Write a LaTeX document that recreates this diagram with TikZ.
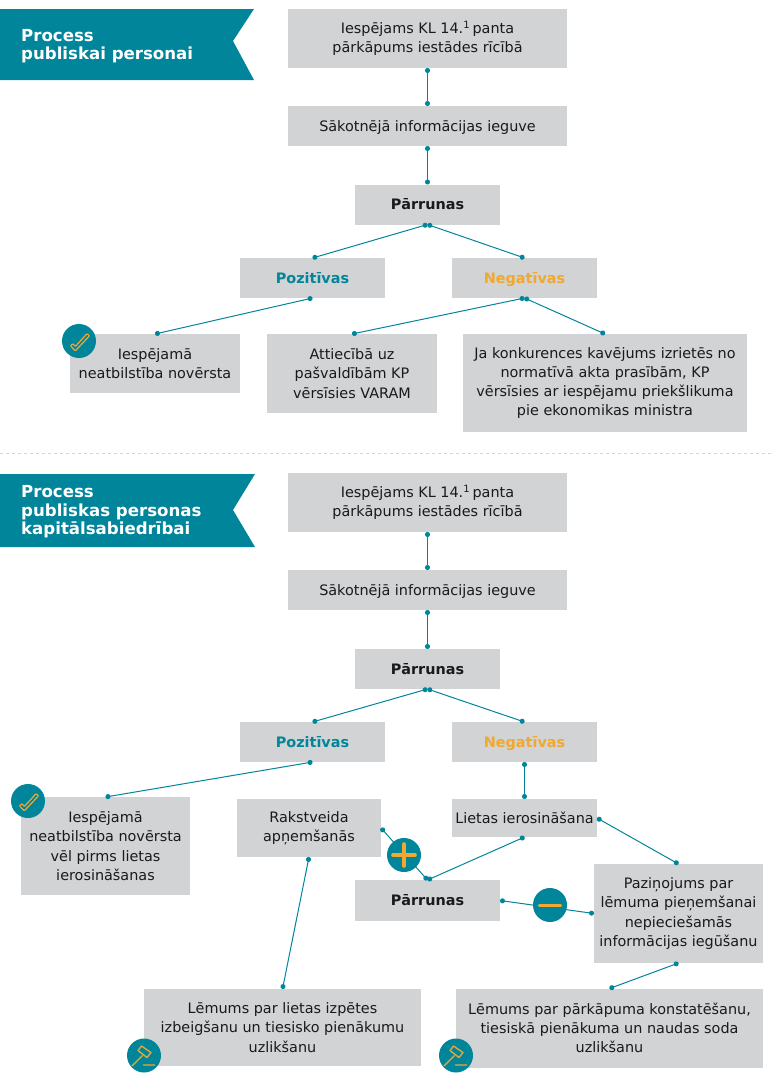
\documentclass[tikz,border=0pt]{standalone}
\usepackage{fontspec}
\setmainfont{DejaVu Sans}
\usetikzlibrary{positioning,arrows.meta}
\definecolor{tealc}{HTML}{00859B}
\definecolor{goldc}{HTML}{F0A830}
\definecolor{greyc}{HTML}{D1D3D4}
\definecolor{inkc}{HTML}{1A1A1A}

\tikzset{
  box/.style={fill=greyc, text=inkc, align=center, inner sep=0pt, outer sep=0pt,
    font=\fontsize{14.4}{19.3}\selectfont},
  wide/.style={box, minimum width=279pt},
  mid/.style={box, minimum width=145pt, minimum height=40pt},
  conn/.style={draw=tealc, line width=1pt, {Circle[length=5pt]}-{Circle[length=5pt]}},
  banner/.style={fill=tealc},
  title/.style={text=white, align=left, anchor=west, inner sep=0pt,
    font=\fontsize{16.6}{18.4}\selectfont\bfseries},
  badge/.style={circle, fill=tealc, minimum size=34pt, inner sep=0pt},
  signbar/.style={draw=goldc, line width=3.6pt, line cap=round},
  pics/checkicon/.style={code={
    \draw[goldc, line width=1.2pt, rounded corners=.8pt]
      (8.1,-7.4) -- (10.5,-5.2) -- (-3.7,9.9) -- (-8.5,4.8) -- (-6.1,2.6) -- (-3.7,5.5) -- cycle;
  }},
  pics/gavelicon/.style={code={
    \draw[goldc, line width=1.3pt, line join=round]
      (-6,-5) -- (-2.5,-9.5) -- (7,-3) -- (3,2) -- cycle
      (-1.5,0) -- (-12,10.5)
      (-1,9.5) -- (11,9.5);
  }},
}

\begin{document}
\begin{tikzpicture}[x=1pt, y=-1pt, on grid]
  \useasboundingbox (0,0) rectangle (774,1080);
  \draw[greyc, dashed, line width=.6pt] (0,453) -- (774,453);

  % first process
  \fill[banner] (0,9) -- (254,9) -- (233,41) -- (254,80) -- (0,80) -- cycle;
  \node[title] (head1) at (21,46) {Process\\publiskai personai};
  \node[wide, minimum height=59pt] (a1) at (427.5,38.5) {Iespējams KL 14.\textsuperscript{1}\,panta\\pārkāpums iestādes rīcībā};
  \node[wide, minimum height=40pt, text depth=0pt] (a2) [below=87.5pt of a1] {Sākotnējā informācijas ieguve};
  \node[mid] (a3) [below=78.5pt of a2] {\textbf{Pārrunas}};
  \node[mid] (pos1) [below left=73.5pt and 115pt of a3] {\textcolor{tealc}{\textbf{Pozitīvas}}};
  \node[mid, text depth=0pt] (neg1) [below right=73.5pt and 97pt of a3] {\textcolor{goldc}{\textbf{Negatīvas}}};
  \node[box, minimum width=170pt, minimum height=59pt] (r1) [below left=85.5pt and 157.5pt of pos1] {Iespējamā\\neatbilstība novērsta};
  \node[box, minimum width=170pt, minimum height=79pt] (r2) [below left=95.5pt and 172.5pt of neg1] {Attiecībā uz\\pašvaldībām KP\\vērsīsies VARAM};
  \node[box, minimum width=284pt, minimum height=98pt] (r3) [below right=105pt and 80.5pt of neg1] {Ja konkurences kavējums izrietēs no\\normatīvā akta prasībām, KP\\vērsīsies ar iespējamu priekšlikuma\\pie ekonomikas ministra};

  \path[conn] (a1) -- (a2);
  \path[conn] (a2) -- (a3);
  \path[conn] (a3.south) -- (pos1.north);
  \path[conn] (a3.south) -- (neg1.north);
  \path[conn] (pos1.south) -- (r1.north);
  \path[conn] (neg1.south) -- (r2.north);
  \path[conn] (neg1.south) -- (r3.north);

  \node[badge] (okay1) at (79,341) {};
  \pic at (okay1) {checkicon};

  % second process
  \fill[banner] (0,474) -- (255,474) -- (233,510) -- (255,547) -- (0,547) -- cycle;
  \node[title] (head2) at (21,512) {Process\\publiskas personas\\kapitālsabiedrībai};
  \node[wide, minimum height=59pt] (b1) at (427.5,502.5) {Iespējams KL 14.\textsuperscript{1}\,panta\\pārkāpums iestādes rīcībā};
  \node[wide, minimum height=40pt, text depth=0pt] (b2) [below=87.5pt of b1] {Sākotnējā informācijas ieguve};
  \node[mid] (b3) [below=79pt of b2] {\textbf{Pārrunas}};
  \node[mid] (pos2) [below left=73pt and 115pt of b3] {\textcolor{tealc}{\textbf{Pozitīvas}}};
  \node[mid, text depth=0pt] (neg2) [below right=73pt and 97pt of b3] {\textcolor{goldc}{\textbf{Negatīvas}}};
  \node[box, minimum width=169pt, minimum height=98pt] (fix) [below left=104pt and 207pt of pos2] {Iespējamā\\neatbilstība novērsta\\vēl pirms lietas\\ierosināšanas};
  \node[box, minimum width=144pt, minimum height=58pt] (written) [below left=86pt and 3.5pt of pos2] {Rakstveida\\apņemšanās};
  \node[box, minimum width=145pt, minimum height=38pt] (case) [below=76pt of neg2] {Lietas ierosināšana};
  \node[mid, minimum height=41pt] (talk) [below left=82.5pt and 97pt of case] {\textbf{Pārrunas}};
  \node[box, minimum width=169pt, minimum height=99pt] (notice) [below right=95.5pt and 154pt of case] {Paziņojums par\\lēmuma pieņemšanai\\nepieciešamās\\informācijas iegūšanu};
  \node[box, minimum width=277pt, minimum height=77pt] (end1) [below left=199.5pt and 26.5pt of written] {Lēmums par lietas izpētes\\izbeigšanu un tiesisko pienākumu\\uzlikšanu};
  \node[box, minimum width=307pt, minimum height=79pt] (end2) [below left=114.5pt and 69pt of notice] {Lēmums par pārkāpuma konstatēšanu,\\tiesiskā pienākuma un naudas soda\\uzlikšanu};

  \path[conn] (b1) -- (b2);
  \path[conn] (b2) -- (b3);
  \path[conn] (b3.south) -- (pos2.north);
  \path[conn] (b3.south) -- (neg2.north);
  \path[conn] (pos2.south) -- (fix.north);
  \path[conn] (neg2) -- (case);
  \path[conn] (case.east) -- (notice.north);
  \path[conn] (case.south) -- (talk.north);
  \path[conn] (written.east) -- (talk.north);
  \path[conn] (talk.east) -- (notice.west);
  \path[conn] (written.south) -- (end1.north);
  \path[conn] (notice.south) -- (end2.north);

  \node[badge] (okay2) at (28,801) {};
  \pic at (okay2) {checkicon};
  \node[badge] (plus) at (404,855) {};
  \draw[signbar] (393,855) -- (415,855) (404,844) -- (404,866);
  \node[badge] (minus) at (550,905) {};
  \draw[signbar] (539.5,905.5) -- (560.5,905.5);
  \node[badge] (law1) at (144,1055.5) {};
  \pic at (law1) {gavelicon};
  \node[badge] (law2) at (456,1055.5) {};
  \pic at (law2) {gavelicon};
\end{tikzpicture}
\end{document}
